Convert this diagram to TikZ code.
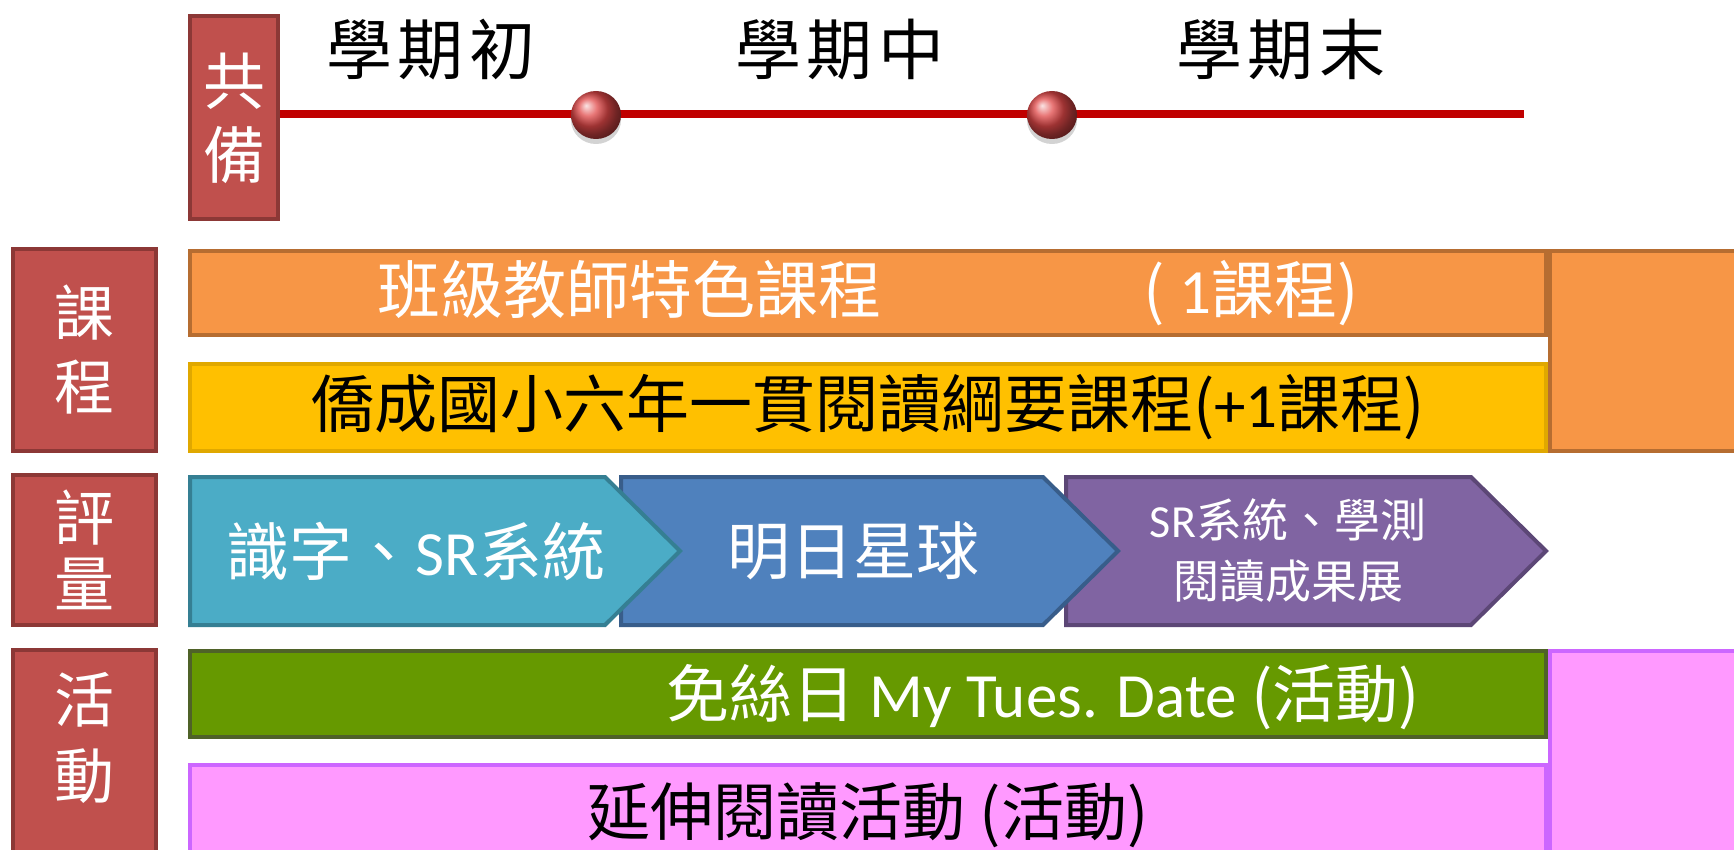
\documentclass[tikz,border=0pt]{standalone}
\usepackage{fontspec}
\setmainfont{Noto Sans CJK TC}
\newfontfamily\lat{Carlito}
\usepackage{xcolor}
\usepackage{tikz}
\usetikzlibrary{shapes.geometric,shadows}

\definecolor{tagfill}{HTML}{C0504D}
\definecolor{tagline}{HTML}{8C3836}
\definecolor{orangefill}{HTML}{F79646}
\definecolor{orangeline}{HTML}{B66D31}
\definecolor{goldfill}{HTML}{FFC000}
\definecolor{goldline}{HTML}{E0A800}
\definecolor{tealfill}{HTML}{4BACC6}
\definecolor{tealline}{HTML}{357F93}
\definecolor{bluefill}{HTML}{4F81BD}
\definecolor{blueline}{HTML}{385D8A}
\definecolor{purplefill}{HTML}{8064A2}
\definecolor{purpleline}{HTML}{5C4776}
\definecolor{greenfill}{HTML}{669900}
\definecolor{greenline}{HTML}{4F6228}
\definecolor{pinkfill}{HTML}{FF99FF}
\definecolor{pinkline}{HTML}{CC66FF}
\definecolor{termred}{HTML}{C00000}
\definecolor{dotred}{HTML}{E04848}

\begin{document}
\begin{tikzpicture}[x=1pt, y=-1pt,
    tag/.style={draw=tagline, fill=tagfill, line width=4, inner sep=0, text=white, align=center,
        font=\fontsize{60}{74}\selectfont},
    bar/.style={line width=4, inner sep=0, minimum width=1356, font=\fontsize{63}{70}\selectfont},
    evaltext/.style={text=white, inner sep=0, align=center, font=\fontsize{63}{70}\selectfont},
    termtext/.style={inner sep=0, font=\fontsize{66}{70}\selectfont}]
            \useasboundingbox (0,0) rectangle (1734,850);
            \clip (0,0) rectangle (1734,850);

            % Timeline header
            \node[tag, minimum width=88, minimum height=203, font=\fontsize{62}{74}\selectfont] (Prep) at (234,118) {共\\備};
            \foreach \x/\t [count=\i] in {431/學\hspace{6pt}期\hspace{6pt}初, 840/學\hspace{6pt}期\hspace{6pt}中, 1281/學\hspace{6pt}期\hspace{6pt}末}
            {
                \node[termtext] (Term-\i) at (\x,50) {\t};
            }
            \coordinate (TimeEnd) at (1524,114);
            \draw[termred, line width=8] (Prep.east |- TimeEnd) -- (TimeEnd);
            \foreach \x [count=\i] in {596,1052}
            {
                \node[ellipse, inner sep=0, minimum width=50, minimum height=48, ball color=dotred,
                    drop shadow={shadow xshift=0pt, shadow yshift=-5pt, opacity=.35}] (Dot-\i) at (\x,115) {};
            }

            % Row labels
            \node[tag, minimum width=143, minimum height=202] (Tag-1) at (84,350) {課\\程};
            \node[tag, minimum width=143, minimum height=150, font=\fontsize{60}{66}\selectfont] (Tag-2) at (84,550) {評\\量};
            \node[tag, minimum width=143, minimum height=240] (Tag-3) at (84,770) {};
            \node[text=white, inner sep=0, align=center, font=\fontsize{60}{76}\selectfont] (Tag-3-text) at (84,738) {活\\動};

            % Courses
            \node[bar, minimum height=84, draw=orangeline, fill=orangefill, text=white] (Course-1) at (868,293)
                {班級教師特色課程\hspace{262pt}( {\lat 1}課程)};
            \node[bar, minimum height=87, draw=goldline, fill=goldfill] (Course-2) at (868,407)
                {僑成國小六年一貫閱讀綱要課程({\lat +1}課程)};
            \node[draw=orangeline, fill=orangefill, line width=4, minimum width=220, minimum height=200] (Course-side) at (1660,351) {};

            % Assessment
            \foreach \l/\s/\c/\d in {1066/1471/purplefill/purpleline, 621/1043/bluefill/blueline, 190/605/tealfill/tealline}
            {
                \draw[line width=4, draw=\d, fill=\c] (\l,477) -- (\s,477) -- (\s+75,551) -- (\s,625) -- (\l,625) -- cycle;
            }
            \node[evaltext] (Eval-1) at (416,551) {識字、{\lat SR}系統};
            \node[evaltext] (Eval-2) at (853,551) {明日星球};
            \node[evaltext, font=\fontsize{46}{61}\selectfont] (Eval-3) at (1288,551) {{\lat SR}系統、學測\\閱讀成果展};

            % Activities
            \node[bar, minimum height=86, draw=greenline, fill=greenfill] (Act-1) at (868,694) {};
            \node[text=white, inner sep=0, font=\fontsize{63}{70}\selectfont] (Act-1-text) at (1043,697)
                {免絲日 {\lat My Tues. Date} (活動)};
            \node[bar, minimum height=120, draw=pinkline, fill=pinkfill] (Act-2) at (868,825) {};
            \node[inner sep=0, font=\fontsize{63}{70}\selectfont] (Act-2-text) at (868,815) {延伸閱讀活動 (活動)};
            \node[draw=pinkline, fill=pinkfill, line width=4, minimum width=220, minimum height=240] (Act-side) at (1660,771) {};

        \end{tikzpicture}
\end{document}
